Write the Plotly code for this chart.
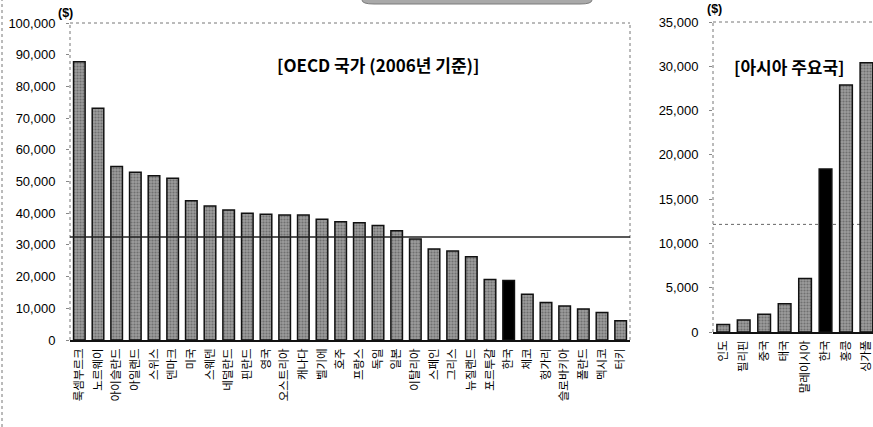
import plotly.graph_objects as go

W, H = 873, 427

oecd_countries = ["룩셈부르크", "노르웨이", "아이슬란드", "아일랜드", "스위스", "덴마크", "미국", "스웨덴",
                  "네덜란드", "핀란드", "영국", "오스트리아", "캐나다", "벨기에", "호주", "프랑스", "독일",
                  "일본", "이탈리아", "스페인", "그리스", "뉴질랜드", "포르투갈", "한국", "체코", "헝가리",
                  "슬로바키아", "폴란드", "멕시코", "터키"]
oecd_gdp = [87800, 73100, 54700, 52900, 51800, 51000, 43900, 42300, 41000, 40000, 39700, 39400, 39400,
            38100, 37300, 37000, 36100, 34500, 31900, 28700, 28100, 26300, 19100, 18800, 14400, 11800,
            10700, 9800, 8700, 6100]
oecd_avg = 32500

asia_countries = ["인도", "필리핀", "중국", "태국", "말레이시아", "한국", "홍콩", "싱가폴"]
asia_gdp = [850, 1350, 2000, 3200, 6050, 18400, 27900, 30400]
asia_ref = 12150

oecd_yticks = list(range(0, 100001, 10000))
asia_yticks = list(range(0, 35001, 5000))


def px(x):
    return x / W


def py(y):
    return 1 - y / H


def colors(names):
    return ["#000000" if n == "한국" else "#9c9c9c" for n in names]


def shapes_pat(names):
    return ["" if n == "한국" else "." for n in names]


fig = go.Figure()
fig.add_trace(go.Bar(
    x=oecd_countries, y=oecd_gdp, xaxis="x", yaxis="y",
    marker=dict(color=colors(oecd_countries), line=dict(color="#111111", width=1.5),
                pattern=dict(shape=shapes_pat(oecd_countries), fillmode="overlay",
                             fgcolor="#333333", size=3, solidity=0.4)),
    showlegend=False, hoverinfo="x+y"))
fig.add_trace(go.Bar(
    x=asia_countries, y=asia_gdp, xaxis="x2", yaxis="y2",
    marker=dict(color=colors(asia_countries), line=dict(color="#111111", width=1.5),
                pattern=dict(shape=shapes_pat(asia_countries), fillmode="overlay",
                             fgcolor="#333333", size=3, solidity=0.4)),
    showlegend=False, hoverinfo="x+y"))

tickfont = dict(family="Liberation Sans, Arial", size=13, color="#000000")
catfont = dict(family="Noto Sans CJK KR", size=11.5, color="#000000")

common_x = dict(type="category", tickangle=-90, tickfont=catfont, showgrid=False, zeroline=False,
                showline=True, linecolor="#111111", linewidth=1.5, ticks="", automargin=False,
                ticklabelstandoff=2, fixedrange=True)
common_y = dict(showgrid=False, zeroline=False, showline=False, ticks="outside", ticklen=3,
                tickcolor="#888888", tickfont=tickfont, automargin=False, ticklabelstandoff=8,
                fixedrange=True)

fig.update_layout(
    template="none",
    width=W, height=H,
    margin=dict(l=0, r=0, t=0, b=0),
    paper_bgcolor="white", plot_bgcolor="white",
    bargap=0.38,
    xaxis=dict(common_x, domain=[px(70), px(630)], range=[-0.5, 29.5], anchor="y"),
    yaxis=dict(common_y, domain=[py(340), py(23)], range=[0, 100000], anchor="x",
               tickvals=oecd_yticks, ticktext=[f"{v:,}" for v in oecd_yticks]),
    xaxis2=dict(common_x, domain=[px(713), 1.0], range=[-0.5, 7.32], anchor="y2"),
    yaxis2=dict(common_y, domain=[py(332), py(22)], range=[0, 35000], anchor="x2",
                tickvals=asia_yticks, ticktext=[f"{v:,}" for v in asia_yticks]),
)

dot = dict(color="#777777", width=1, dash="dot")
shapes = [
    # outer left border
    dict(type="line", xref="paper", yref="paper", x0=px(2), x1=px(2), y0=0, y1=1, line=dot),
    # left plot frame (dotted)
    dict(type="line", xref="x domain", yref="y domain", x0=0, x1=1, y0=1, y1=1, line=dot),
    dict(type="line", xref="x domain", yref="y domain", x0=0, x1=0, y0=0, y1=1, line=dot),
    dict(type="line", xref="x domain", yref="y domain", x0=1, x1=1, y0=0, y1=1, line=dot),
    # right plot frame (dotted)
    dict(type="line", xref="x2 domain", yref="y2 domain", x0=0, x1=1, y0=1, y1=1, line=dot),
    dict(type="line", xref="x2 domain", yref="y2 domain", x0=0, x1=0, y0=0, y1=1, line=dot),
    # OECD average line
    dict(type="line", xref="x domain", yref="y", x0=0, x1=1, y0=oecd_avg, y1=oecd_avg,
         line=dict(color="#222222", width=1.6)),
    # Asia reference dotted line
    dict(type="line", xref="x2 domain", yref="y2", x0=0, x1=1, y0=asia_ref, y1=asia_ref,
         line=dict(color="#666666", width=1, dash="dot"), layer="below"),
]

# grey banner partially visible at the top
bx0, bx1, by0, by1 = 362, 592, -20, 4
path = (f"M {px(bx0)},{py(by0)} L {px(bx0)},{py(by1-4)} Q {px(bx0)},{py(by1)} {px(bx0+12)},{py(by1)} "
        f"L {px(bx1-12)},{py(by1)} Q {px(bx1)},{py(by1)} {px(bx1)},{py(by1-4)} L {px(bx1)},{py(by0)} Z")
shapes.append(dict(type="path", xref="paper", yref="paper", path=path,
                   fillcolor="#a9a9a9", line=dict(color="#7a7a7a", width=1)))
fig.update_layout(shapes=shapes)

annotations = [
    dict(text="<b>[OECD 국가 (2006년 기준)]</b>", x=px(378), y=py(65), xref="paper", yref="paper",
         xanchor="center", yanchor="middle", showarrow=False,
         font=dict(family="Noto Sans CJK KR", size=17, color="#000000")),
    dict(text="<b>[아시아 주요국]</b>", x=px(789), y=py(67), xref="paper", yref="paper",
         xanchor="center", yanchor="middle", showarrow=False,
         font=dict(family="Noto Sans CJK KR", size=17, color="#000000")),
    dict(text="<b>($)</b>", x=px(65), y=py(13), xref="paper", yref="paper", showarrow=False,
         xanchor="center", yanchor="middle",
         font=dict(family="Liberation Sans, Arial", size=12.5, color="#000000")),
    dict(text="<b>($)</b>", x=px(714), y=py(9), xref="paper", yref="paper", showarrow=False,
         xanchor="center", yanchor="middle",
         font=dict(family="Liberation Sans, Arial", size=12.5, color="#000000")),
]
fig.update_layout(annotations=annotations)

fig.write_html("out.html")
